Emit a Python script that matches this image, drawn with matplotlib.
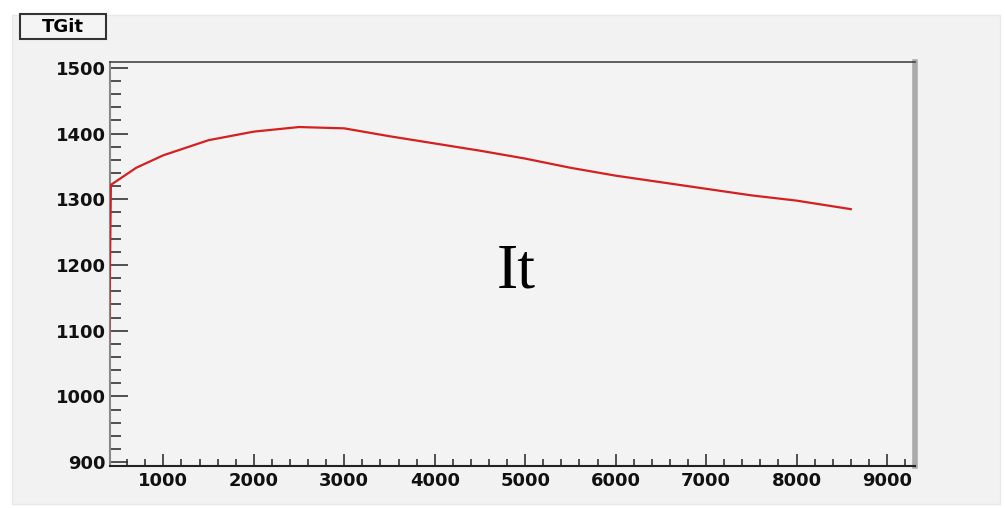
import matplotlib
matplotlib.use("Agg")
import matplotlib.pyplot as plt
from matplotlib.patches import Rectangle
from matplotlib.ticker import MultipleLocator

# data
x_vals = [400, 420, 700, 1000, 1500, 2000, 2500, 3000, 3500, 4000, 4500,
          5000, 5500, 6000, 6500, 7000, 7500, 8000, 8600]
y_vals = [1080, 1322, 1348, 1367, 1390, 1403, 1410, 1408, 1396, 1385, 1374,
          1362, 1348, 1336, 1326, 1316, 1306, 1298, 1285]
x_ticks = [1000, 2000, 3000, 4000, 5000, 6000, 7000, 8000, 9000]
y_ticks = [900, 1000, 1100, 1200, 1300, 1400, 1500]
title = "TGit"
annotation = "It"

W, H = 1005, 508
fig = plt.figure(figsize=(W / 100, H / 100), dpi=100)
fig.patch.set_facecolor("white")
# gray canvas panel
fig.add_artist(Rectangle((12 / W, 4 / H), 988 / W, 489 / H,
                         transform=fig.transFigure, facecolor="#f2f2f2",
                         edgecolor="#e8e8e8", lw=1, zorder=0))

ax = fig.add_axes([110 / W, 42 / H, 805 / W, 404 / H])
ax.set_facecolor("#f3f3f3")
ax.plot(x_vals, y_vals, color="#d42020", lw=1.6, zorder=3)
ax.set_xlim(410, 9310)
ax.set_ylim(894, 1509)

ax.set_xticks(x_ticks)
ax.set_yticks(y_ticks)
ax.xaxis.set_minor_locator(MultipleLocator(200))
ax.yaxis.set_minor_locator(MultipleLocator(20))
ax.tick_params(axis="both", which="both", direction="in", top=False, right=False,
               colors="#333333", labelcolor="#111111")
ax.tick_params(axis="x", which="major", length=9, width=1.2, pad=4)
ax.tick_params(axis="x", which="minor", length=5, width=1.2)
ax.tick_params(axis="y", which="major", length=13, width=1.2, pad=3)
ax.tick_params(axis="y", which="minor", length=8, width=1.2)
for lab in ax.get_xticklabels() + ax.get_yticklabels():
    lab.set_fontweight("bold")
    lab.set_fontsize(13)
    lab.set_family("DejaVu Sans")

ax.spines["top"].set_color("#444444")
ax.spines["top"].set_linewidth(1.2)
ax.spines["left"].set_color("#888888")
ax.spines["left"].set_linewidth(1.5)
ax.spines["bottom"].set_color("#222222")
ax.spines["bottom"].set_linewidth(1.5)
ax.spines["right"].set_color("#aaaaaa")
ax.spines["right"].set_linewidth(4)

ax.text(0.505, 0.48, annotation, transform=ax.transAxes, fontsize=46,
        family="Liberation Serif", color="black", ha="center", va="center")

# title box
fig.add_artist(Rectangle((20 / W, 1 - 39 / H), 86 / W, 25 / H,
                         transform=fig.transFigure, facecolor="#f4f4f4",
                         edgecolor="#333333", lw=1.5, zorder=2))
fig.text(63 / W, 1 - 27 / H, title, fontsize=13, fontweight="bold",
         family="DejaVu Sans", ha="center", va="center", zorder=3)

fig.savefig("out.png", dpi=100)
